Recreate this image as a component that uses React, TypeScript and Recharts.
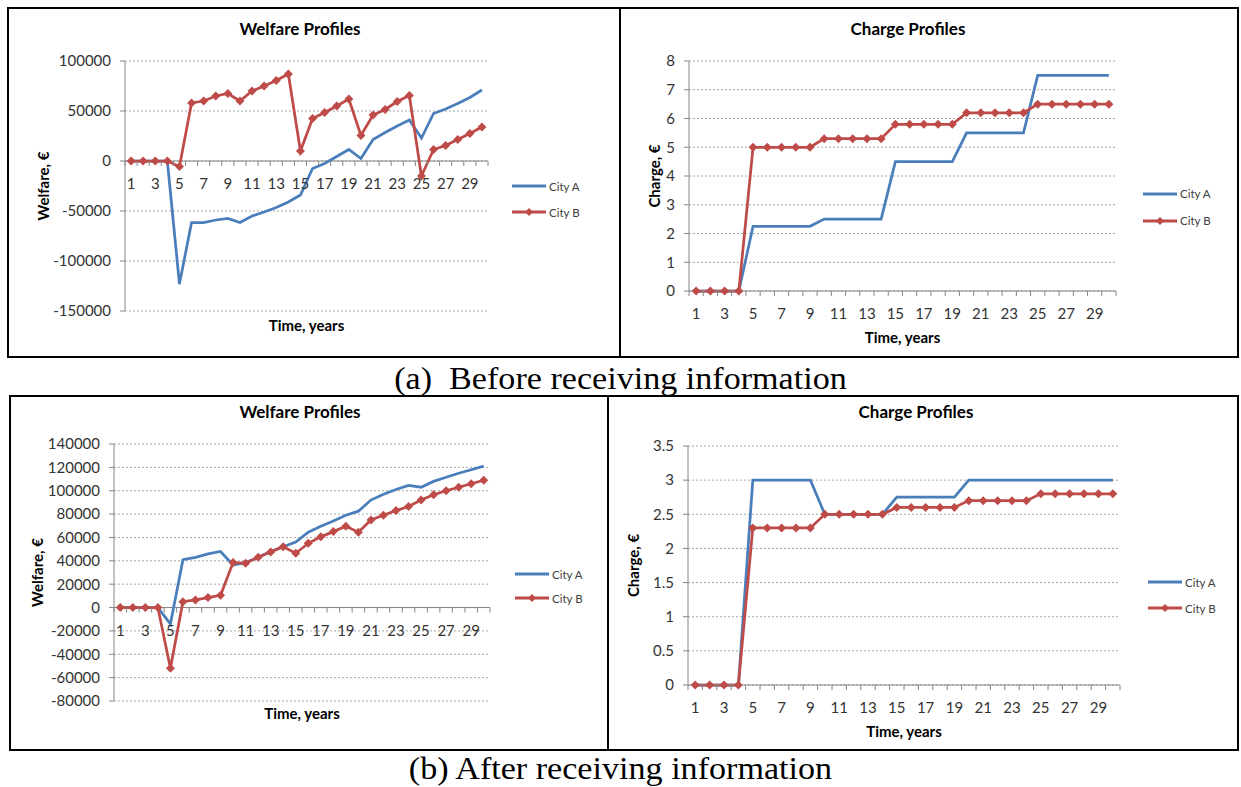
import React from "react";
import { LineChart, Line, XAxis, YAxis, CartesianGrid, ReferenceLine, Legend } from "recharts";

const BLUE = "#4A7EBB";
const RED = "#BE4B48";
const AXIS = "#868686";
const FONT = "Lato, 'Open Sans', sans-serif";

const years = [1, 2, 3, 4, 5, 6, 7, 8, 9, 10, 11, 12, 13, 14, 15, 16, 17, 18, 19, 20, 21, 22, 23, 24, 25, 26, 27, 28, 29, 30];

// (a) before receiving information
const welfareBeforeA = [0, 0, 0, 0, -123000, -61500, -61500, -59000, -57500, -61500, -55000, -51000, -46500, -41000, -34000, -7500, -2500, 4500, 11500, 2500, 21500, 28500, 35000, 41000, 23000, 47500, 52000, 57500, 63500, 71000];
const welfareBeforeB = [0, 0, 0, 0, -5500, 58000, 60000, 65000, 67500, 60000, 70000, 75000, 80500, 87000, 10000, 42500, 48500, 55000, 62000, 25500, 46000, 51500, 59500, 65500, -15000, 11500, 15500, 21500, 27500, 34000];
const chargeBeforeA = [0, 0, 0, 0, 2.25, 2.25, 2.25, 2.25, 2.25, 2.5, 2.5, 2.5, 2.5, 2.5, 4.5, 4.5, 4.5, 4.5, 4.5, 5.5, 5.5, 5.5, 5.5, 5.5, 7.5, 7.5, 7.5, 7.5, 7.5, 7.5];
const chargeBeforeB = [0, 0, 0, 0, 5, 5, 5, 5, 5, 5.3, 5.3, 5.3, 5.3, 5.3, 5.8, 5.8, 5.8, 5.8, 5.8, 6.2, 6.2, 6.2, 6.2, 6.2, 6.5, 6.5, 6.5, 6.5, 6.5, 6.5];

// (b) after receiving information
const welfareAfterA = [0, 0, 0, 0, -14000, 41000, 43000, 46000, 48000, 36500, 38500, 43000, 48000, 52000, 56000, 64500, 69500, 74000, 79000, 82500, 92000, 97000, 101000, 104500, 103000, 108000, 111500, 115000, 118000, 121000];
const welfareAfterB = [0, 0, 0, 0, -52000, 5000, 6500, 8500, 10500, 38500, 38000, 43000, 47500, 52000, 46500, 55000, 60500, 65000, 69500, 64500, 75000, 79000, 83000, 86500, 92000, 96500, 100000, 103000, 106000, 109000];
const chargeAfterA = [0, 0, 0, 0, 3, 3, 3, 3, 3, 2.5, 2.5, 2.5, 2.5, 2.5, 2.75, 2.75, 2.75, 2.75, 2.75, 3, 3, 3, 3, 3, 3, 3, 3, 3, 3, 3];
const chargeAfterB = [0, 0, 0, 0, 2.3, 2.3, 2.3, 2.3, 2.3, 2.5, 2.5, 2.5, 2.5, 2.5, 2.6, 2.6, 2.6, 2.6, 2.6, 2.7, 2.7, 2.7, 2.7, 2.7, 2.8, 2.8, 2.8, 2.8, 2.8, 2.8];

const welfareTicksBefore = [-150000, -100000, -50000, 0, 50000, 100000];
const chargeTicksBefore = [0, 1, 2, 3, 4, 5, 6, 7, 8];
const welfareTicksAfter = [-80000, -60000, -40000, -20000, 0, 20000, 40000, 60000, 80000, 100000, 120000, 140000];
const chargeTicksAfter = [0, 0.5, 1, 1.5, 2, 2.5, 3, 3.5];

const toRows = (a: number[], b: number[]) =>
  years.map((year, i) => ({ year, cityA: a[i], cityB: b[i] }));

const Diamond = (props: any) => {
  const { cx, cy, index } = props;
  if (cx == null || cy == null) return <g key={`n-${index}`} />;
  const s = 4.5;
  return (
    <polygon
      key={`d-${index}`}
      points={`${cx},${cy - s} ${cx + s},${cy} ${cx},${cy + s} ${cx - s},${cy}`}
      fill={RED}
    />
  );
};

const makeTick = (zeroY: number, band: number) => (props: any) => {
  const { x, index, payload } = props;
  const left = x - band / 2;
  return (
    <g>
      <line x1={left} x2={left} y1={zeroY} y2={zeroY + 5} stroke={AXIS} />
      {index === years.length - 1 && (
        <line x1={x + band / 2} x2={x + band / 2} y1={zeroY} y2={zeroY + 5} stroke={AXIS} />
      )}
      {index % 2 === 0 && (
        <text x={x} y={zeroY + 28} textAnchor="middle" fontSize={15} fill="#333" fontFamily={FONT}>
          {payload.value}
        </text>
      )}
    </g>
  );
};

const makeLegend = (row: number) => () => (
  <div style={{ fontFamily: FONT, fontSize: 11.5, color: "#404040" }}>
    {[
      { name: "City A", color: BLUE, marker: false },
      { name: "City B", color: RED, marker: true },
    ].map((s) => (
      <div key={s.name} style={{ display: "flex", alignItems: "center", height: row }}>
        <svg width={34} height={10}>
          <line x1={0} y1={5} x2={34} y2={5} stroke={s.color} strokeWidth={3} />
          {s.marker && <polygon points="17,1 21,5 17,9 13,5" fill={s.color} />}
        </svg>
        <span style={{ marginLeft: 3 }}>{s.name}</span>
      </div>
    ))}
  </div>
);

type Spec = {
  left: number;
  top: number;
  width: number;
  height: number;
  margin: { top: number; right: number; bottom: number; left: number };
  yWidth: number;
  xHeight: number;
  domain: [number, number];
  ticks: number[];
  rows: { year: number; cityA: number; cityB: number }[];
  yLabel: string;
  yLabelOffset: number;
  title: string;
  titleX: number;
  titleY: number;
  legendLeft: number;
  legendTop: number;
  legendRow: number;
  crossesZero: boolean;
};

function ProfileChart({ s }: { s: Spec }) {
  const plotW = s.width - s.margin.left - s.yWidth - s.margin.right;
  const plotH = s.height - s.margin.top - s.margin.bottom - s.xHeight;
  const [min, max] = s.domain;
  const zeroY = s.margin.top + (plotH * max) / (max - min);
  const band = plotW / years.length;

  return (
    <>
      <div
        style={{
          position: "absolute",
          left: s.titleX - 150,
          top: s.titleY - 11,
          width: 300,
          lineHeight: "22px",
          textAlign: "center",
          fontFamily: FONT,
          fontWeight: 700,
          fontSize: 17,
        }}
      >
        {s.title}
      </div>
      <div style={{ position: "absolute", left: s.left, top: s.top }}>
        <LineChart width={s.width} height={s.height} data={s.rows} margin={s.margin}>
          <CartesianGrid vertical={false} stroke="#a6a6a6" strokeDasharray="2 2" />
          <XAxis
            dataKey="year"
            scale="band"
            interval={0}
            height={s.xHeight}
            axisLine={s.crossesZero ? false : { stroke: AXIS }}
            tickLine={false}
            tick={makeTick(zeroY, band)}
            label={{
              value: "Time, years",
              position: "insideBottom",
              offset: 0,
              style: { fontFamily: FONT, fontWeight: 700, fontSize: 15, fill: "#000" },
            }}
          />
          <YAxis
            width={s.yWidth}
            domain={s.domain}
            ticks={s.ticks}
            interval={0}
            axisLine={{ stroke: AXIS }}
            tickLine={{ stroke: AXIS }}
            tickSize={5}
            tickMargin={9}
            tick={{ fontSize: 15, fill: "#333", fontFamily: FONT }}
            label={{
              value: s.yLabel,
              angle: -90,
              position: "insideLeft",
              offset: s.yLabelOffset,
              style: { textAnchor: "middle", fontFamily: FONT, fontWeight: 700, fontSize: 15, fill: "#000" },
            }}
          />
          {s.crossesZero && <ReferenceLine y={0} stroke={AXIS} />}
          <Line
            dataKey="cityA"
            name="City A"
            stroke={BLUE}
            strokeWidth={2.75}
            dot={false}
            activeDot={false}
            isAnimationActive={false}
          />
          <Line
            dataKey="cityB"
            name="City B"
            stroke={RED}
            strokeWidth={2.75}
            dot={Diamond}
            activeDot={false}
            isAnimationActive={false}
          />
          <Legend
            layout="horizontal"
            align="center"
            verticalAlign="middle"
            content={makeLegend(s.legendRow)}
            wrapperStyle={{ left: s.legendLeft, top: s.legendTop, width: 90 }}
          />
        </LineChart>
      </div>
    </>
  );
}

const charts: Spec[] = [
  {
    left: 10, top: 10, width: 608, height: 346,
    margin: { top: 51, right: 130, bottom: 25, left: 10 },
    yWidth: 105, xHeight: 20,
    domain: [-150000, 100000], ticks: welfareTicksBefore,
    rows: toRows(welfareBeforeA, welfareBeforeB),
    yLabel: "Welfare, €", yLabelOffset: 24,
    title: "Welfare Profiles", titleX: 300, titleY: 29,
    legendLeft: 502, legendTop: 163, legendRow: 26, crossesZero: true,
  },
  {
    left: 622, top: 10, width: 616, height: 346,
    margin: { top: 51, right: 122, bottom: 13, left: 5 },
    yWidth: 62, xHeight: 52,
    domain: [0, 8], ticks: chargeTicksBefore,
    rows: toRows(chargeBeforeA, chargeBeforeB),
    yLabel: "Charge, €", yLabelOffset: 28,
    title: "Charge Profiles", titleX: 908, titleY: 29,
    legendLeft: 521, legendTop: 170, legendRow: 27, crossesZero: false,
  },
  {
    left: 12, top: 398, width: 594, height: 350,
    margin: { top: 46, right: 116, bottom: 29, left: 5 },
    yWidth: 97, xHeight: 18,
    domain: [-80000, 140000], ticks: welfareTicksAfter,
    rows: toRows(welfareAfterA, welfareAfterB),
    yLabel: "Welfare, €", yLabelOffset: 21,
    title: "Welfare Profiles", titleX: 300, titleY: 412,
    legendLeft: 503, legendTop: 164, legendRow: 24, crossesZero: true,
  },
  {
    left: 610, top: 398, width: 628, height: 350,
    margin: { top: 48, right: 118, bottom: 11, left: 5 },
    yWidth: 73, xHeight: 52,
    domain: [0, 3.5], ticks: chargeTicksAfter,
    rows: toRows(chargeAfterA, chargeAfterB),
    yLabel: "Charge, €", yLabelOffset: 19,
    title: "Charge Profiles", titleX: 916, titleY: 412,
    legendLeft: 538, legendTop: 171, legendRow: 26, crossesZero: false,
  },
];

const captionStyle: React.CSSProperties = {
  position: "absolute",
  left: 0,
  width: 1241,
  textAlign: "center",
  fontFamily: "'Liberation Serif', 'Times New Roman', serif",
  fontSize: 31,
  lineHeight: "36px",
  transform: "scaleX(1.1)",
  whiteSpace: "pre",
};

export default function App() {
  return (
    <div style={{ position: "absolute", left: 0, top: 0, width: 1241, height: 787, background: "#fff" }}>
      <div style={{ position: "absolute", left: 7, top: 7, width: 1232, height: 351, border: "2px solid #000", boxSizing: "border-box" }} />
      <div style={{ position: "absolute", left: 619, top: 7, width: 2, height: 351, background: "#000" }} />
      <div style={{ position: "absolute", left: 9, top: 395, width: 1230, height: 356, border: "2px solid #000", boxSizing: "border-box" }} />
      <div style={{ position: "absolute", left: 607, top: 395, width: 2, height: 356, background: "#000" }} />
      {charts.map((s, i) => (
        <ProfileChart key={i} s={s} />
      ))}
      <div style={{ ...captionStyle, top: 361 }}>(a)  Before receiving information</div>
      <div style={{ ...captionStyle, top: 751 }}>(b) After receiving information</div>
    </div>
  );
}
